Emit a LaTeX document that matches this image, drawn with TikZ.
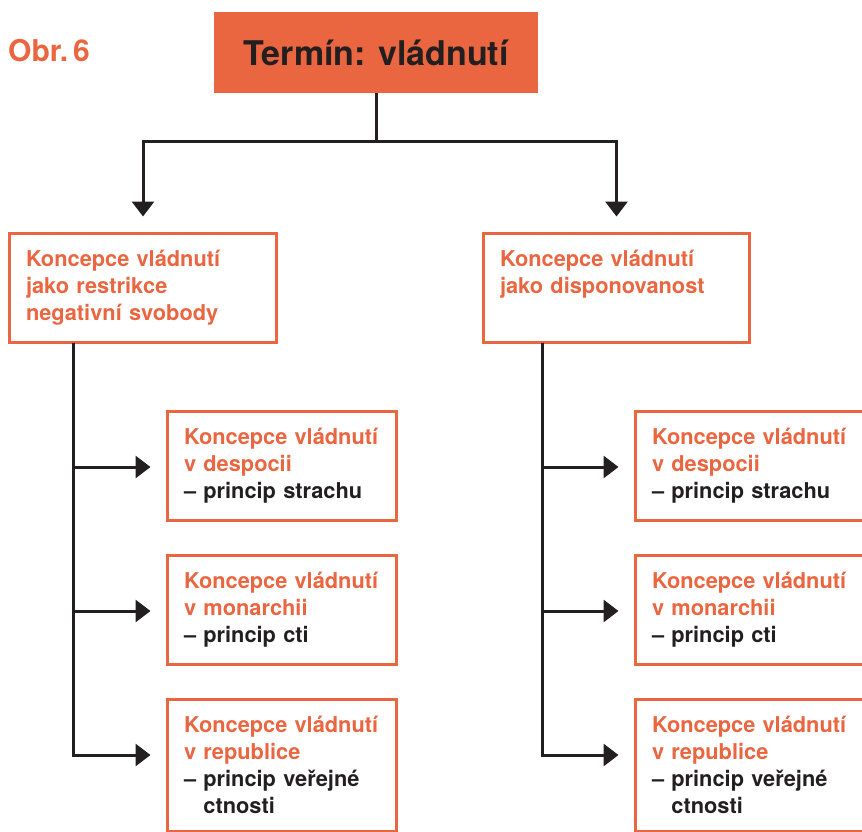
\documentclass[tikz,border=0pt]{standalone}
\usepackage{fontspec}
\setmainfont{TeX Gyre Heros}
\usetikzlibrary{arrows.meta,positioning}
\definecolor{obrorange}{RGB}{233,102,64}
\definecolor{linkblack}{RGB}{35,31,32}

\begin{document}
\begin{tikzpicture}[x=1pt, y=-1pt,
  every node/.style={font=\bfseries},
  concept/.style={draw=obrorange, line width=3pt, outer sep=0pt, anchor=north west, align=left, text=obrorange, inner xsep=16.5pt, inner ysep=17pt, font=\fontsize{21.8}{27}\selectfont\bfseries},
  link/.style={draw=linkblack, line width=3pt},
  arrow/.style={link, -{Triangle[width=22pt,length=15pt]}, shorten >=17pt}]

\useasboundingbox (0,0) rectangle (862,831);

% Heading
\node[anchor=west, inner sep=0pt, text=obrorange, font=\fontsize{30}{34}\selectfont\bfseries] (obr) at (8,51) {Obr.\,6};
\node[fill=obrorange, minimum width=324pt, minimum height=81pt, inner sep=0pt, text=linkblack, font=\fontsize{34}{40}\selectfont\bfseries] (term) at (376,52.5) {Termín: vládnutí};

% Concepts
\node[concept, text width=234pt] (restr) at (9.5,233.5) {Koncepce vládnutí\\jako restrikce\\negativní svobody};
\node[concept, text width=233pt] (disp) at (483.5,233.5) {Koncepce vládnutí\\jako disponovanost\\\vphantom{y}};

% Sub-concepts, left
\node[concept, text width=196pt] (ldesp) at (167.5,411.5) {Koncepce vládnutí\\v despocii\\{\color{linkblack}-- princip strachu}};
\node[concept, text width=196pt] (lmon) at (167.5,555.5) {Koncepce vládnutí\\v monarchii\\{\color{linkblack}-- princip cti}};
\node[concept, text width=196pt] (lrep) at (167.5,699.5) {Koncepce vládnutí\\v republice\\{\color{linkblack}-- princip veřejné}\\{\color{linkblack}\phantom{-- }ctnosti}};

% Sub-concepts, right
\node[concept, text width=196pt] (rdesp) at (635.5,411.5) {Koncepce vládnutí\\v despocii\\{\color{linkblack}-- princip strachu}};
\node[concept, text width=196pt] (rmon) at (635.5,555.5) {Koncepce vládnutí\\v monarchii\\{\color{linkblack}-- princip cti}};
\node[concept, text width=196pt] (rrep) at (635.5,699.5) {Koncepce vládnutí\\v republice\\{\color{linkblack}-- princip veřejné}\\{\color{linkblack}\phantom{-- }ctnosti}};

% Arrows
\draw[arrow] (term.south) -- ++(0,48.5) -| (restr.north);
\draw[arrow] (term.south) -- ++(0,48.5) -| (disp.north);

\draw[arrow] ([xshift=63.5pt]restr.south west) |- ([yshift=-55.5pt]ldesp.north west);
\draw[arrow] ([xshift=63.5pt]restr.south west) |- ([yshift=-55.5pt]lmon.north west);
\draw[arrow] ([xshift=63.5pt]restr.south west) |- ([yshift=-55.5pt]lrep.north west);

\draw[arrow] ([xshift=58.5pt]disp.south west) |- ([yshift=-55.5pt]rdesp.north west);
\draw[arrow] ([xshift=58.5pt]disp.south west) |- ([yshift=-55.5pt]rmon.north west);
\draw[arrow] ([xshift=58.5pt]disp.south west) |- ([yshift=-55.5pt]rrep.north west);

\end{tikzpicture}
\end{document}
